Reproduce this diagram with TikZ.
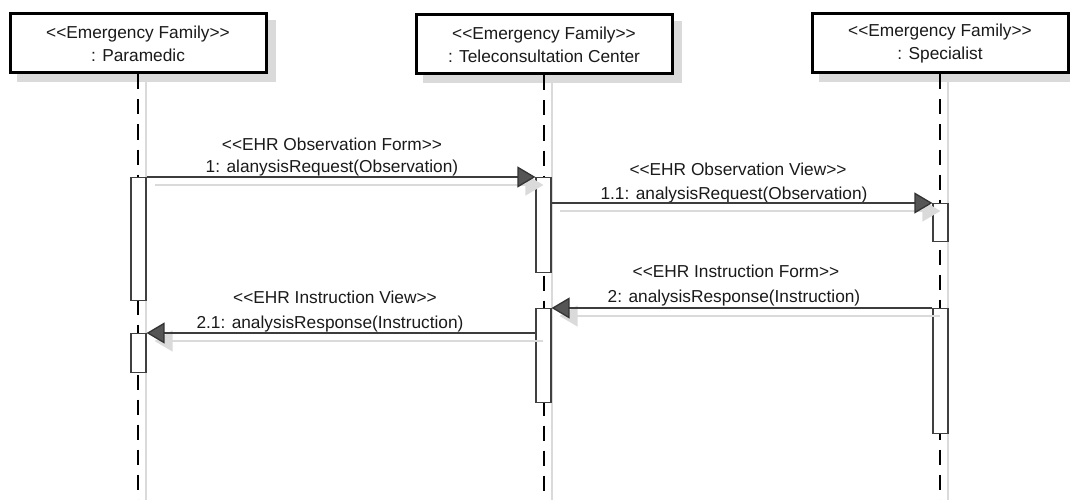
\documentclass[tikz,border=0pt]{standalone}
\usepackage{fontspec}
\setmainfont{Liberation Sans}
\usetikzlibrary{calc,arrows.meta}

\definecolor{ink}{HTML}{1A1A1A}
\definecolor{barline}{HTML}{404040}
\definecolor{msgline}{HTML}{3C3C3C}
\definecolor{shadowgrey}{HTML}{DADADA}
\definecolor{headfill}{HTML}{555555}
\definecolor{headedge}{HTML}{333333}

\pgfdeclarelayer{shadowlayer}
\pgfdeclarelayer{lines}
\pgfdeclarelayer{msgs}
\pgfsetlayers{shadowlayer,lines,main,msgs}

\begin{document}
\begin{tikzpicture}[x=1pt,y=-1pt,
  every node/.style={font=\fontsize{17.3}{23}\selectfont, text=ink},
  headbox/.style={draw=black, line width=3pt, fill=white, minimum width=256pt,
    minimum height=59pt, inner sep=0pt, align=center, anchor=north},
  lifeline/.style={draw=black, line width=1.5pt, dash pattern=on 15pt off 10pt},
  lifeshadow/.style={draw=shadowgrey, line width=1.2pt},
  actbar/.style={draw=barline, line width=1.2pt, fill=white, minimum width=15pt,
    inner sep=0pt, anchor=north},
  msg/.style={draw=msgline, line width=1.3pt,
    -{Triangle[length=18pt,width=21pt,fill=headfill,color=headedge]}},
  msgshadow/.style={draw=shadowgrey, line width=1.3pt,
    -{Triangle[length=18pt,width=21pt,fill=shadowgrey,color=shadowgrey]},
    transform canvas={shift={(8pt,-8pt)}}},
  lbl/.style={anchor=base, inner sep=0pt}
]
\useasboundingbox (0,0) rectangle (1070,500);
\clip (0,0) rectangle (1070,500);
\coordinate (floor) at (0,500);

% lifeline heads
\node[headbox] (p) at (138,12.5) {<{}<Emergency Family>{}>\\: Paramedic};
\node[headbox] (t) at (544,13.5) {<{}<Emergency Family>{}>\\: Teleconsultation Center};
\node[headbox] (s) at (940,12.5) {<{}<Emergency Family>{}>\\: Specialist};

% activation bars
\node[actbar, minimum height=123pt] (pa1) at (138.5,177) {};
\node[actbar, minimum height=39pt]  (pa2) at (138.5,333) {};
\node[actbar, minimum height=95pt]  (ta1) at (543.5,177) {};
\node[actbar, minimum height=94pt]  (ta2) at (543.5,308) {};
\node[actbar, minimum height=38pt]  (sa1) at (940.5,203) {};
\node[actbar, minimum height=125pt] (sa2) at (940.5,308) {};

% drop shadows and dashed lifelines
\begin{pgfonlayer}{shadowlayer}
  \foreach \h in {p,t,s}{
    \fill[shadowgrey] ($(\h.south west)+(8,8)$) rectangle ($(\h.north east)+(8,8)$);
    \draw[lifeshadow] ($(\h.south)+(8,8)$) -- ($(\h.south |- floor)+(8,0)$);
  }
\end{pgfonlayer}
\begin{pgfonlayer}{lines}
  \foreach \h in {p,t,s}{
    \draw[lifeline] (\h.south) -- (\h.south |- floor);
  }
\end{pgfonlayer}

% messages
\begin{pgfonlayer}{msgs}
  \draw[msgshadow] (pa1.north east) -- (ta1.north west);
  \draw[msg]       (pa1.north east) -- (ta1.north west);
  \draw[msgshadow] (ta1.east |- sa1.north) -- (sa1.north west);
  \draw[msg]       (ta1.east |- sa1.north) -- (sa1.north west);
  \draw[msgshadow] (sa2.north west) -- (ta2.north east);
  \draw[msg]       (sa2.north west) -- (ta2.north east);
  \draw[msgshadow] (ta2.west |- pa2.north) -- (pa2.north east);
  \draw[msg]       (ta2.west |- pa2.north) -- (pa2.north east);
\end{pgfonlayer}

% message labels
\node[lbl] (m1s)  at (332,150) {<{}<EHR Observation Form>{}>};
\node[lbl] (m1n)  at (332,172) {1: alanysisRequest(Observation)};
\node[lbl] (m11s) at (738,175) {<{}<EHR Observation View>{}>};
\node[lbl] (m11n) at (734,199) {1.1: analysisRequest(Observation)};
\node[lbl] (m2s)  at (736,277) {<{}<EHR Instruction Form>{}>};
\node[lbl] (m2n)  at (734,302) {2: analysisResponse(Instruction)};
\node[lbl] (m21s) at (335,303) {<{}<EHR Instruction View>{}>};
\node[lbl] (m21n) at (330,328) {2.1: analysisResponse(Instruction)};
\end{tikzpicture}
\end{document}
